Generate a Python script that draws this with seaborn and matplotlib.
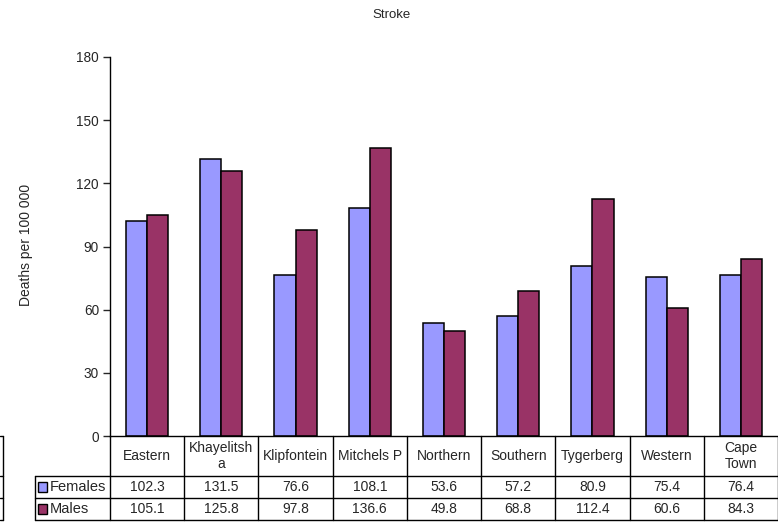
import pandas as pd
import numpy as np
import matplotlib.pyplot as plt
import seaborn as sns
from matplotlib.transforms import blended_transform_factory
from matplotlib.lines import Line2D
from matplotlib.patches import Rectangle

# Stroke death rates by sub-district
districts = ['Eastern', 'Khayelitsha', 'Klipfontein', 'Mitchels P', 'Northern',
             'Southern', 'Tygerberg', 'Western', 'Cape Town']
header_labels = ['Eastern', 'Khayelitsh\na', 'Klipfontein', 'Mitchels P', 'Northern',
                 'Southern', 'Tygerberg', 'Western', 'Cape\nTown']
females = [102.3, 131.5, 76.6, 108.1, 53.6, 57.2, 80.9, 75.4, 76.4]
males = [105.1, 125.8, 97.8, 136.6, 49.8, 68.8, 112.4, 60.6, 84.3]
series = ['Females', 'Males']
colors = {'Females': '#9999FF', 'Males': '#993366'}

df = pd.DataFrame({
    'District': districts * 2,
    'Sex': ['Females'] * len(districts) + ['Males'] * len(districts),
    'Rate': females + males,
})

sns.set_style('white')
plt.rcParams['font.family'] = ['Liberation Sans', 'DejaVu Sans']

W, H = 778, 522
fig = plt.figure(figsize=(W / 100, H / 100), dpi=100)
ax = fig.add_axes([110 / W, 1 - 436 / H, 668 / W, (436 - 57) / H])

sns.barplot(data=df, x='District', y='Rate', hue='Sex', palette=colors,
            order=districts, hue_order=series, width=0.57,
            edgecolor='black', linewidth=1.1, saturation=1, ax=ax, legend=False)

ax.set_xlim(-0.5, len(districts) - 0.5)
ax.set_ylim(0, 180)
ax.set_yticks(np.arange(0, 181, 30))
ax.tick_params(axis='y', direction='out', length=5, width=1, labelsize=9.8, pad=3, left=True)
ax.set_xticks([])
ax.set_xlabel('')
ax.set_ylabel('')
for side in ['top', 'right']:
    ax.spines[side].set_visible(False)
for side in ['left', 'bottom']:
    ax.spines[side].set_color('black')
    ax.spines[side].set_linewidth(1)

fig.text(392 / W, 1 - 15 / H, 'Stroke', ha='center', va='center', fontsize=9.5)
fig.text(26 / W, 1 - 245 / H, 'Deaths per 100 000', ha='center', va='center',
         rotation=90, fontsize=10)

# data table under the chart
tr = blended_transform_factory(ax.transData, fig.transFigure)
def fy(p):
    return 1 - p / H

n = len(districts)
lw = 1
for yp in [476, 498, 520]:
    fig.add_artist(Line2D([35 / W, 1], [fy(yp), fy(yp)], transform=fig.transFigure,
                          color='black', lw=lw))
for i in range(n + 1):
    fig.add_artist(Line2D([i - 0.5, i - 0.5], [fy(436), fy(520)], transform=tr,
                          color='black', lw=lw, clip_on=False))
fig.add_artist(Line2D([35 / W, 35 / W], [fy(476), fy(520)], transform=fig.transFigure,
                      color='black', lw=lw))
# cut-off box at far left
fig.add_artist(Line2D([3 / W, 3 / W], [fy(436), fy(520)], transform=fig.transFigure,
                      color='black', lw=lw))
for yp in [436, 476, 498, 520]:
    fig.add_artist(Line2D([0, 3 / W], [fy(yp), fy(yp)], transform=fig.transFigure,
                          color='black', lw=lw))

for i, lab in enumerate(header_labels):
    fig.text(i, fy(456), lab, transform=tr, ha='center', va='center', fontsize=10,
             linespacing=1.2)
for row, (name, vals) in enumerate(zip(series, [females, males])):
    yc = fy(487 + row * 22)
    fig.add_artist(Rectangle((38 / W, yc - 5 / H), 9 / W, 10 / H, transform=fig.transFigure,
                             facecolor=colors[name], edgecolor='black', lw=1))
    fig.text(50 / W, yc, name, ha='left', va='center', fontsize=10.5)
    for i, v in enumerate(vals):
        fig.text(i, yc, f'{v:.1f}', transform=tr, ha='center', va='center', fontsize=10)

fig.savefig('out.png', dpi=100)
